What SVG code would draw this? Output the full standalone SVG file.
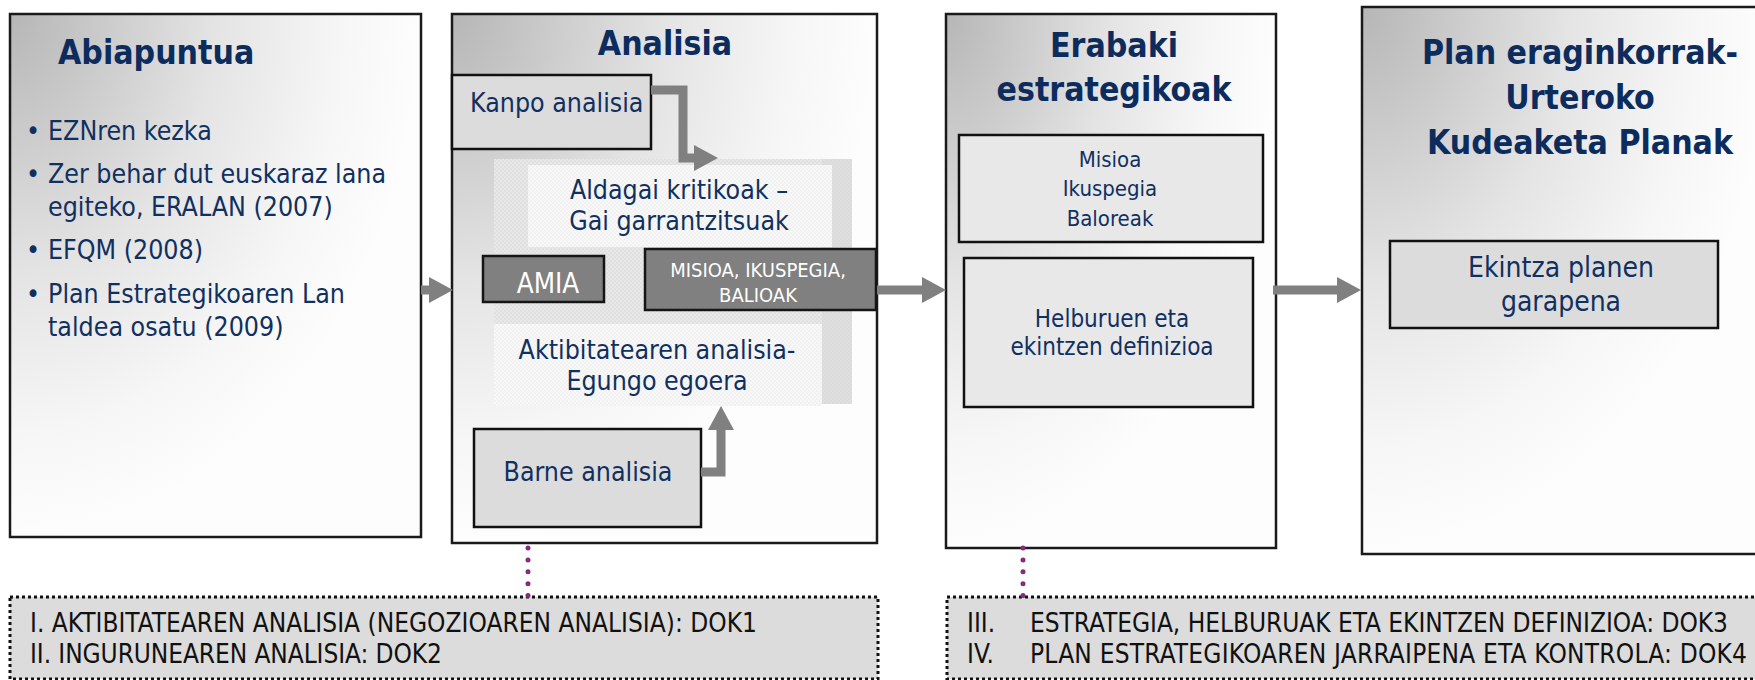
<svg xmlns="http://www.w3.org/2000/svg" width="1755" height="680" viewBox="0 0 1755 680">
<defs>
<style>
.t{font-family:'DejaVu Sans Condensed','DejaVu Sans',sans-serif;font-stretch:condensed}
.title{font-size:33.5px;font-weight:bold;fill:#0d2c5e}
.body{font-size:26.5px;fill:#10305f}
.doc{font-size:26px;fill:#111}
.outer{stroke:#1a1a1a;stroke-width:2.5}
.inner{stroke:#111;stroke-width:2.5}
.dark{fill:#808080;stroke:#151515;stroke-width:2.5}
.white{fill:#fff}
.dots{fill:#dcdcdc;stroke:#111;stroke-width:3;stroke-dasharray:3 3}
.shaft{stroke:#808080;fill:none;stroke-width:9}
.purple{stroke:#862a80;stroke-width:5;stroke-linecap:round;stroke-dasharray:0 11.9;fill:none}
</style>
<radialGradient id="bg" cx="0" cy="0" r="1" gradientUnits="objectBoundingBox">
<stop offset="0" stop-color="#b6b6b6"/>
<stop offset="0.5" stop-color="#e4e4e4"/>
<stop offset="0.8" stop-color="#f6f6f6"/>
<stop offset="1" stop-color="#fdfdfd"/>
</radialGradient>
<pattern id="texA" width="4" height="4" patternUnits="userSpaceOnUse">
<rect width="4" height="4" fill="#e0e0e0"/><rect width="2" height="2" fill="#e8e8e8"/><rect x="2" y="2" width="2" height="2" fill="#e8e8e8"/>
</pattern>
<pattern id="texB" width="4" height="4" patternUnits="userSpaceOnUse">
<rect width="4" height="4" fill="#f1f1f1"/><rect width="2" height="2" fill="#f8f8f8"/><rect x="2" y="2" width="2" height="2" fill="#f8f8f8"/>
</pattern>
<marker id="ah" markerUnits="userSpaceOnUse" markerWidth="25" markerHeight="27" refX="0" refY="13" orient="auto">
<path d="M0,0 L24,13 L0,26 Z" fill="#808080"/>
</marker>
</defs>

<g id="abiapuntua">
<rect x="10" y="14" width="411" height="523" fill="url(#bg)" class="outer"/>
<text class="t title" x="58" y="64">Abiapuntua</text>
<g class="t body">
<text x="26" y="140">•</text><text x="48" y="140">EZNren kezka</text>
<text x="26" y="183">•</text><text x="48" y="183">Zer behar dut euskaraz lana</text>
<text x="48" y="216">egiteko, ERALAN (2007)</text>
<text x="26" y="259">•</text><text x="48" y="259">EFQM (2008)</text>
<text x="26" y="303">•</text><text x="48" y="303">Plan Estrategikoaren Lan</text>
<text x="48" y="336">taldea osatu (2009)</text>
</g>
</g>

<g id="analisia">
<rect x="452" y="14" width="425" height="529" fill="url(#bg)" class="outer"/>
<text class="t title" x="665" y="55" text-anchor="middle">Analisia</text>
<rect x="494" y="159" width="358" height="245" fill="url(#texA)"/>
<rect x="822" y="159" width="30" height="245" fill="#d6d6d6" opacity="0.5"/>
<rect x="528" y="165" width="304" height="82" fill="url(#texB)"/>
<rect x="494" y="324" width="328" height="82" fill="url(#texB)"/>
<g class="t body" text-anchor="middle">
<text x="679" y="199">Aldagai kritikoak –</text>
<text x="679" y="230">Gai garrantzitsuak</text>
<text x="657" y="359">Aktibitatearen analisia-</text>
<text x="657" y="390">Egungo egoera</text>
</g>
</g>

<g id="kanpo">
<rect x="452" y="75" width="199" height="74" fill="#dcdcdc" class="inner"/>
<text class="t body" x="470" y="112">Kanpo analisia</text>
</g>

<g id="amia">
<rect x="483" y="256" width="121" height="46" class="dark"/>
<text class="t white" x="548" y="293" font-size="27.5" text-anchor="middle">AMIA</text>
</g>

<g id="misioa-ikuspegia-balioak">
<rect x="645" y="249" width="231" height="61" class="dark"/>
<text class="t white" x="758" y="277" font-size="20" text-anchor="middle">MISIOA, IKUSPEGIA,</text>
<text class="t white" x="758" y="302" font-size="20" text-anchor="middle">BALIOAK</text>
</g>

<g id="barne">
<rect x="474" y="429" width="227" height="98" fill="#dcdcdc" class="inner"/>
<text class="t body" x="588" y="481" text-anchor="middle">Barne analisia</text>
</g>

<g id="erabaki">
<rect x="946" y="14" width="330" height="534" fill="url(#bg)" class="outer"/>
<text class="t title" x="1114" y="57" text-anchor="middle">Erabaki</text>
<text class="t title" x="1114" y="101" text-anchor="middle">estrategikoak</text>
</g>

<g id="misioa">
<rect x="959" y="135" width="304" height="107" fill="#e8e8e8" class="inner"/>
<g class="t" font-size="22" fill="#10305f" text-anchor="middle">
<text x="1110" y="167">Misioa</text>
<text x="1110" y="196">Ikuspegia</text>
<text x="1110" y="226">Baloreak</text>
</g>
</g>

<g id="helburuak">
<rect x="964" y="258" width="289" height="149" fill="#e8e8e8" class="inner"/>
<g class="t" font-size="24" fill="#10305f" text-anchor="middle">
<text x="1112" y="327">Helburuen eta</text>
<text x="1112" y="355">ekintzen definizioa</text>
</g>
</g>

<g id="plan">
<rect x="1362" y="7" width="410" height="547" fill="url(#bg)" class="outer"/>
<text class="t title" x="1580" y="64" text-anchor="middle">Plan eraginkorrak-</text>
<text class="t title" x="1580" y="109" text-anchor="middle">Urteroko</text>
<text class="t title" x="1580" y="154" text-anchor="middle">Kudeaketa Planak</text>
</g>

<g id="ekintza">
<rect x="1390" y="241" width="328" height="87" fill="#dcdcdc" class="inner"/>
<g class="t" font-size="28" fill="#10305f" text-anchor="middle">
<text x="1561" y="277">Ekintza planen</text>
<text x="1561" y="311">garapena</text>
</g>
</g>

<g id="dok12">
<rect x="10" y="597" width="868" height="82" class="dots"/>
<g class="t doc">
<text x="30" y="632" textLength="727">I. AKTIBITATEAREN ANALISIA (NEGOZIOAREN ANALISIA): DOK1</text>
<text x="30" y="663" textLength="412">II. INGURUNEAREN ANALISIA: DOK2</text>
</g>
</g>

<g id="dok34">
<rect x="947" y="597" width="830" height="82" class="dots"/>
<g class="t doc">
<text x="967" y="632">III.</text><text x="1030" y="632" textLength="698">ESTRATEGIA, HELBURUAK ETA EKINTZEN DEFINIZIOA: DOK3</text>
<text x="967" y="663">IV.</text><text x="1030" y="663" textLength="717">PLAN ESTRATEGIKOAREN JARRAIPENA ETA KONTROLA: DOK4</text>
</g>
</g>

<g id="connectors">
<path class="shaft" d="M421,290 H429" marker-end="url(#ah)"/>
<path class="shaft" d="M877,290 H922" marker-end="url(#ah)"/>
<path class="shaft" d="M1273,290 H1337" marker-end="url(#ah)"/>
<path class="shaft" stroke-width="8" d="M651,90 H683 V158 H694" marker-end="url(#ah)"/>
<path class="shaft" stroke-width="8" d="M701,472 H721 V430" marker-end="url(#ah)"/>
<path class="purple" d="M528,548 V596"/>
<path class="purple" d="M1023,548 V596"/>
</g>
</svg>
